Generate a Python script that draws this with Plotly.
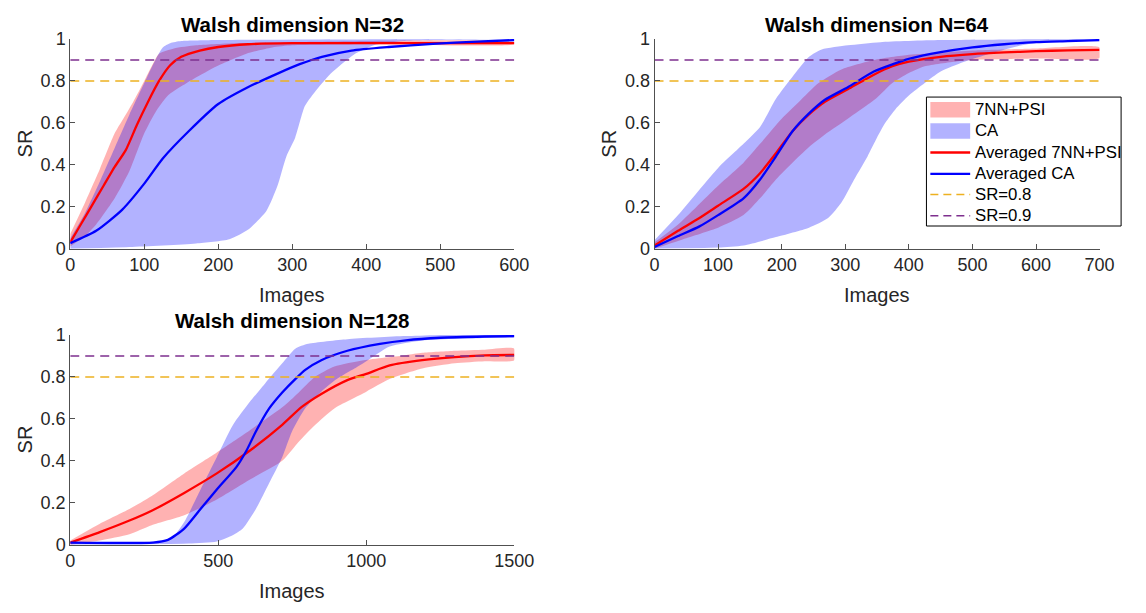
import plotly.graph_objects as go

# ---------------- data ----------------
# Walsh dimension N=32
x32_psi_avg = [0, 15, 30, 45, 60, 75, 90, 105, 120, 135, 150, 175, 200, 240, 300, 400, 500, 600]
y32_psi_avg = [0.03, 0.12, 0.21, 0.30, 0.39, 0.47, 0.59, 0.70, 0.80, 0.875, 0.915, 0.945, 0.962, 0.975, 0.98, 0.98, 0.98, 0.98]
x32_psi_hi = [0, 20, 40, 60, 70, 85, 100, 110, 120, 140, 170, 220, 300, 600]
y32_psi_hi = [0.07, 0.22, 0.38, 0.55, 0.61, 0.70, 0.80, 0.87, 0.93, 0.955, 0.97, 0.98, 0.985, 0.985]
x32_psi_lo = [0, 20, 35, 60, 80, 100, 115, 132, 167, 198, 238, 273, 300, 400, 600]
y32_psi_lo = [0.01, 0.06, 0.115, 0.24, 0.37, 0.55, 0.65, 0.73, 0.81, 0.87, 0.93, 0.96, 0.97, 0.975, 0.975]
x32_ca_avg = [0, 35, 70, 100, 125, 160, 200, 240, 280, 310, 340, 380, 430, 490, 550, 600]
y32_ca_avg = [0.026, 0.085, 0.185, 0.31, 0.43, 0.56, 0.69, 0.77, 0.835, 0.88, 0.915, 0.945, 0.962, 0.977, 0.988, 0.995]
x32_ca_hi = [0, 20, 40, 60, 80, 100, 115, 125, 135, 150, 200, 600]
y32_ca_hi = [0.05, 0.17, 0.32, 0.48, 0.64, 0.79, 0.90, 0.96, 0.98, 0.99, 0.995, 1.0]
x32_ca_lo = [0, 80, 170, 215, 240, 265, 280, 292, 304, 317, 330, 352, 383, 410, 450, 600]
y32_ca_lo = [0.0, 0.008, 0.025, 0.045, 0.09, 0.18, 0.30, 0.44, 0.53, 0.68, 0.745, 0.835, 0.925, 0.97, 0.99, 1.0]

# Walsh dimension N=64
x64_psi_avg = [0, 37, 70, 100, 140, 166, 191, 217, 243, 268, 304, 345, 374, 400, 450, 500, 550, 600, 650, 700]
y64_psi_avg = [0.015, 0.085, 0.145, 0.205, 0.285, 0.36, 0.455, 0.56, 0.64, 0.70, 0.76, 0.83, 0.87, 0.892, 0.915, 0.928, 0.936, 0.942, 0.946, 0.948]
x64_psi_hi = [0, 37, 100, 140, 166, 200, 227, 258, 294, 345, 400, 450, 500, 600, 700]
y64_psi_hi = [0.03, 0.115, 0.30, 0.41, 0.50, 0.62, 0.70, 0.79, 0.855, 0.90, 0.925, 0.935, 0.945, 0.955, 0.96]
x64_psi_lo = [0, 50, 100, 140, 166, 191, 217, 243, 268, 304, 348, 374, 400, 425, 475, 500, 600, 700]
y64_psi_lo = [0.0, 0.05, 0.10, 0.16, 0.24, 0.33, 0.41, 0.485, 0.545, 0.62, 0.715, 0.79, 0.838, 0.87, 0.893, 0.90, 0.907, 0.91]
x64_ca_avg = [0, 37, 70, 100, 140, 166, 191, 217, 243, 268, 304, 345, 375, 400, 450, 500, 550, 600, 650, 700]
y64_ca_avg = [0.008, 0.06, 0.105, 0.16, 0.24, 0.33, 0.44, 0.56, 0.645, 0.71, 0.77, 0.845, 0.88, 0.905, 0.937, 0.96, 0.975, 0.985, 0.99, 0.995]
x64_ca_hi = [0, 37, 100, 140, 166, 191, 217, 243, 263, 304, 355, 450, 700]
y64_ca_hi = [0.04, 0.16, 0.385, 0.50, 0.58, 0.715, 0.82, 0.915, 0.95, 0.97, 0.985, 0.995, 1.0]
x64_ca_lo = [0, 100, 140, 191, 243, 273, 294, 314, 335, 350, 363, 379, 400, 425, 450, 486, 527, 578, 630, 700]
y64_ca_lo = [0.0, 0.005, 0.015, 0.055, 0.10, 0.146, 0.22, 0.33, 0.44, 0.53, 0.60, 0.665, 0.73, 0.79, 0.845, 0.89, 0.93, 0.97, 0.99, 1.0]

# Walsh dimension N=128
x128_psi_avg = [0, 100, 200, 275, 385, 495, 606, 716, 782, 848, 936, 1000, 1079, 1189, 1299, 1400, 1500]
y128_psi_avg = [0.01, 0.06, 0.115, 0.162, 0.247, 0.34, 0.448, 0.572, 0.657, 0.719, 0.785, 0.815, 0.855, 0.88, 0.895, 0.903, 0.905]
x128_psi_hi = [0, 100, 200, 275, 385, 495, 606, 716, 771, 826, 892, 991, 1134, 1189, 1300, 1400, 1500]
y128_psi_hi = [0.02, 0.10, 0.17, 0.232, 0.34, 0.44, 0.545, 0.655, 0.725, 0.80, 0.85, 0.88, 0.904, 0.915, 0.925, 0.93, 0.935]
x128_psi_lo = [0, 100, 200, 275, 385, 495, 606, 716, 771, 826, 892, 1000, 1079, 1189, 1299, 1400, 1500]
y128_psi_lo = [0.0, 0.02, 0.05, 0.093, 0.14, 0.216, 0.31, 0.40, 0.49, 0.57, 0.65, 0.73, 0.79, 0.84, 0.865, 0.875, 0.88]
x128_ca_avg = [0, 280, 330, 385, 440, 495, 561, 595, 627, 672, 716, 760, 795, 848, 936, 1046, 1134, 1250, 1400, 1500]
y128_ca_avg = [0.01, 0.01, 0.023, 0.077, 0.17, 0.263, 0.37, 0.448, 0.54, 0.65, 0.726, 0.79, 0.835, 0.88, 0.925, 0.958, 0.975, 0.987, 0.993, 0.995]
x128_ca_hi = [0, 280, 341, 385, 440, 495, 550, 606, 660, 716, 760, 804, 936, 1134, 1500]
y128_ca_hi = [0.01, 0.015, 0.03, 0.108, 0.263, 0.417, 0.572, 0.68, 0.773, 0.865, 0.935, 0.958, 0.98, 0.995, 1.0]
x128_ca_lo = [0, 400, 495, 550, 583, 627, 672, 716, 749, 793, 848, 900, 960, 1000, 1079, 1189, 1400, 1500]
y128_ca_lo = [0.0, 0.005, 0.015, 0.046, 0.077, 0.17, 0.294, 0.417, 0.54, 0.65, 0.73, 0.79, 0.84, 0.875, 0.945, 0.974, 0.986, 0.99]

x_ranges = [600, 700, 1500]
x_tick_steps = [100, 100, 500]
titles = ["Walsh dimension N=32", "Walsh dimension N=64", "Walsh dimension N=128"]
thresholds = [0.8, 0.9]

legend_labels = ["7NN+PSI", "CA", "Averaged 7NN+PSI", "Averaged CA", "SR=0.8", "SR=0.9"]

# ---------------- styling ----------------
W, H = 1146, 613
FONT = "Liberation Sans, Arial, Helvetica, sans-serif"
AX_COL = "#262626"
AX_LINE = "rgb(80,80,80)"
RED_FILL = "rgba(255,0,0,0.3)"
BLUE_FILL = "rgba(0,0,255,0.3)"
RED = "rgb(255,0,0)"
BLUE = "rgb(0,0,255)"
ORANGE = "rgb(237,177,32)"
PURPLE = "rgb(126,47,142)"
thr_colors = [ORANGE, PURPLE]

# axes boxes in pixels: (left, right, top, bottom)
boxes = [(66.7, 520.7, 30.0, 246.7),
         (664.0, 1119.0, 30.0, 246.7),
         (66.7, 520.7, 336.0, 552.7)]

panels = [
    (x32_psi_avg, y32_psi_avg, x32_psi_hi, y32_psi_hi, x32_psi_lo, y32_psi_lo,
     x32_ca_avg, y32_ca_avg, x32_ca_hi, y32_ca_hi, x32_ca_lo, y32_ca_lo),
    (x64_psi_avg, y64_psi_avg, x64_psi_hi, y64_psi_hi, x64_psi_lo, y64_psi_lo,
     x64_ca_avg, y64_ca_avg, x64_ca_hi, y64_ca_hi, x64_ca_lo, y64_ca_lo),
    (x128_psi_avg, y128_psi_avg, x128_psi_hi, y128_psi_hi, x128_psi_lo, y128_psi_lo,
     x128_ca_avg, y128_ca_avg, x128_ca_hi, y128_ca_hi, x128_ca_lo, y128_ca_lo),
]


def band(xh, yh, xl, yl):
    """Closed polygon: upper edge left-to-right, lower edge back."""
    return list(xh) + list(xl)[::-1], list(yh) + list(yl)[::-1]


fig = go.Figure()
annotations = []
shapes = []

for i, p in enumerate(panels):
    (xa, ya, xh, yh, xl, yl, cxa, cya, cxh, cyh, cxl, cyl) = p
    suffix = "" if i == 0 else str(i + 1)
    xr, yr = "x" + suffix, "y" + suffix

    bx, by = band(xh, yh, xl, yl)
    fig.add_trace(go.Scatter(x=bx, y=by, fill="toself", fillcolor=RED_FILL,
                             line=dict(width=0, shape="spline", smoothing=0.6),
                             mode="lines", xaxis=xr, yaxis=yr, hoverinfo="skip"))
    bx, by = band(cxh, cyh, cxl, cyl)
    fig.add_trace(go.Scatter(x=bx, y=by, fill="toself", fillcolor=BLUE_FILL,
                             line=dict(width=0, shape="spline", smoothing=0.6),
                             mode="lines", xaxis=xr, yaxis=yr, hoverinfo="skip"))
    fig.add_trace(go.Scatter(x=xa, y=ya, mode="lines",
                             line=dict(color=RED, width=2.3, shape="spline", smoothing=0.6),
                             xaxis=xr, yaxis=yr))
    fig.add_trace(go.Scatter(x=cxa, y=cya, mode="lines",
                             line=dict(color=BLUE, width=2.3, shape="spline", smoothing=0.6),
                             xaxis=xr, yaxis=yr))
    for t, c in zip(thresholds, thr_colors):
        fig.add_trace(go.Scatter(x=[0, x_ranges[i]], y=[t, t], mode="lines",
                                 line=dict(color=c, width=1.4, dash="9px,6px"),
                                 xaxis=xr, yaxis=yr))

    l, r, t_, b = boxes[i]
    xdom = [l / W, r / W]
    ydom = [1 - b / H, 1 - t_ / H]
    axis_common = dict(showline=True, linecolor=AX_LINE, linewidth=1, mirror=False,
                       ticks="inside", ticklen=5, tickwidth=1, tickcolor=AX_LINE,
                       showgrid=False, zeroline=False,
                       tickfont=dict(family=FONT, size=18, color=AX_COL))
    fig.layout["xaxis" + suffix] = dict(domain=xdom, range=[0, x_ranges[i]],
                                        anchor=yr, tick0=0, dtick=x_tick_steps[i],
                                        **axis_common)
    fig.layout["yaxis" + suffix] = dict(domain=ydom, range=[0, 1], anchor=xr,
                                        tickvals=[0, 0.2, 0.4, 0.6, 0.8, 1],
                                        ticktext=["0", "0.2", "0.4", "0.6", "0.8", "1"],
                                        **axis_common)

    cx = (l + r) / 2
    annotations.append(dict(text="<b>" + titles[i] + "</b>", x=cx / W, y=1 - (t_ - 15) / H,
                            xref="paper", yref="paper", xanchor="center", yanchor="middle",
                            showarrow=False, font=dict(family=FONT, size=20.5, color="black")))
    annotations.append(dict(text="Images", x=cx / W, y=1 - (b + 48) / H,
                            xref="paper", yref="paper", xanchor="center", yanchor="middle",
                            showarrow=False, font=dict(family=FONT, size=20, color=AX_COL)))
    annotations.append(dict(text="SR", x=(l - 46.7) / W, y=1 - ((t_ + b) / 2) / H,
                            xref="paper", yref="paper", xanchor="center", yanchor="middle",
                            textangle=-90, showarrow=False,
                            font=dict(family=FONT, size=20, color=AX_COL)))

# ---------------- legend box (drawn in paper space) ----------------
def px_x(v):
    return v / W


def px_y(v):
    return 1 - v / H


lg_l, lg_r, lg_t, lg_b = 942.0, 1141.0, 90.0, 223.3
shapes.append(dict(type="rect", xref="paper", yref="paper",
                   x0=px_x(lg_l), x1=px_x(lg_r), y0=px_y(lg_b), y1=px_y(lg_t),
                   line=dict(color="black", width=1), fillcolor="white", layer="above"))
row_y = [103.0, 125.0, 147.3, 169.3, 190.7, 212.7]
sym_l, sym_r = 946.0, 986.7
legend_styles = [("patch", RED_FILL), ("patch", BLUE_FILL), ("line", RED), ("line", BLUE),
                 ("dash", ORANGE), ("dash", PURPLE)]
for k, (kind, col) in enumerate(legend_styles):
    yc = row_y[k]
    if kind == "patch":
        shapes.append(dict(type="rect", xref="paper", yref="paper",
                           x0=px_x(sym_l), x1=px_x(sym_r), y0=px_y(yc + 8), y1=px_y(yc - 8),
                           line=dict(width=0), fillcolor=col, layer="above"))
    elif kind == "line":
        shapes.append(dict(type="line", xref="paper", yref="paper",
                           x0=px_x(sym_l), x1=px_x(sym_r), y0=px_y(yc), y1=px_y(yc),
                           line=dict(color=col, width=2.3), layer="above"))
    else:
        shapes.append(dict(type="line", xref="paper", yref="paper",
                           x0=px_x(sym_l), x1=px_x(sym_r), y0=px_y(yc), y1=px_y(yc),
                           line=dict(color=col, width=1.4, dash="8px,5px"), layer="above"))
    annotations.append(dict(text=legend_labels[k], x=px_x(990), y=px_y(yc),
                            xref="paper", yref="paper", xanchor="left", yanchor="middle",
                            showarrow=False, font=dict(family=FONT, size=16.8, color="black")))

fig.update_layout(width=W, height=H, margin=dict(l=0, r=0, t=0, b=0),
                  paper_bgcolor="white", plot_bgcolor="white", showlegend=False,
                  annotations=annotations, shapes=shapes)

fig.write_html("out.html")
